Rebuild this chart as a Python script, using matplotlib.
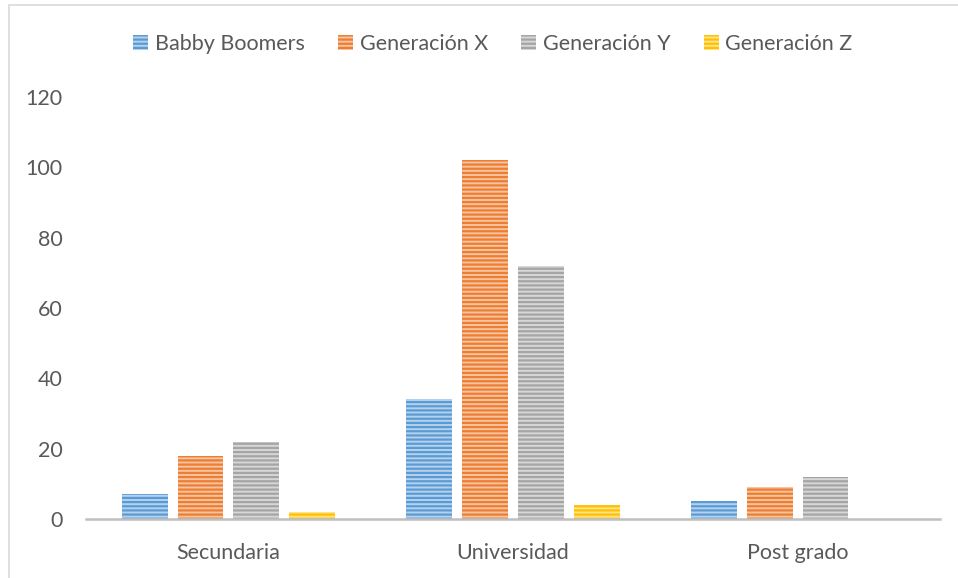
import numpy as np
import matplotlib
matplotlib.use("Agg")
import matplotlib.pyplot as plt
from matplotlib.patches import Rectangle
from matplotlib.colors import to_rgb

plt.rcParams['font.family'] = ['Lato', 'DejaVu Sans']
plt.rcParams['hatch.linewidth'] = 1.6

categories = ["Secundaria", "Universidad", "Post grado"]
series = ["Babby Boomers", "Generación X", "Generación Y", "Generación Z"]
babby_boomers = [7, 34, 5]
generacion_x = [18, 102, 9]
generacion_y = [22, 72, 12]
generacion_z = [2, 4, 0]
values = [babby_boomers, generacion_x, generacion_y, generacion_z]
colors = ["#5B9BD5", "#ED7D31", "#A5A5A5", "#FFC000"]
yticks = [0, 20, 40, 60, 80, 100, 120]


def tint(c, f=0.55):
    r = np.array(to_rgb(c))
    return tuple(r + (1 - r) * f)


fig = plt.figure(figsize=(9.58, 5.78), dpi=100)
ax = fig.add_axes([86 / 958, 1 - 519 / 578, (940 - 86) / 958, (519 - 97) / 578])

# outer chart border (cropped on right/bottom)
fig.patches.append(Rectangle((9 / 958, -0.05), 1.1, 1 - 5.5 / 578 + 0.05,
                             transform=fig.transFigure, fill=False,
                             edgecolor="#D9D9D9", linewidth=1.2))

x = np.arange(len(categories))
step = 0.196
width = 0.161
handles = []
for i, (name, vals, col) in enumerate(zip(series, values, colors)):
    b = ax.bar(x + (i - 1.5) * step, vals, width, facecolor=tint(col),
               edgecolor=col, hatch='----', linewidth=0, label=name)
    handles.append(b)

ax.set_xlim(-0.5, 2.5)
ax.set_ylim(0, 120)
ax.set_yticks(yticks)
ax.set_xticks(x)
ax.set_xticklabels(categories)
for s in ["top", "right", "left"]:
    ax.spines[s].set_visible(False)
ax.spines["bottom"].set_color("#BFBFBF")
ax.spines["bottom"].set_linewidth(1.8)
ax.tick_params(axis='y', length=0, pad=17, labelsize=15.5, labelcolor="#595959")
ax.tick_params(axis='x', length=0, pad=17, labelsize=15.5, labelcolor="#595959")

fig.legend(handles=handles, loc="center", bbox_to_anchor=(0.5146, 1 - 44 / 578),
           ncol=4, frameon=False, fontsize=15.5, labelcolor="#595959",
           handlelength=0.7, handleheight=0.7, handletextpad=0.3,
           columnspacing=1.55)

fig.savefig("out.png", dpi=100)
